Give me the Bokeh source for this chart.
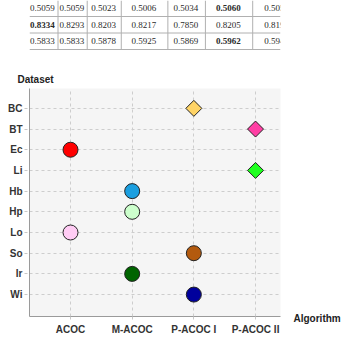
import math
from bokeh.plotting import figure
from bokeh.layouts import column
from bokeh.models import Range1d, FixedTicker, ColumnDataSource, Label, Title
from bokeh.core.properties import value
from bokeh.embed import file_html
from bokeh.resources import INLINE

# ---- table rows shown above the chart ----
table_row1 = ["0.5059", "0.5059", "0.5023", "0.5006", "0.5034", "0.5060", "0.5051"]
table_row2 = ["0.8334", "0.8293", "0.8203", "0.8217", "0.7850", "0.8205", "0.8192"]
table_row3 = ["0.5833", "0.5833", "0.5878", "0.5925", "0.5869", "0.5962", "0.5941"]
table_bold = [(0, 5), (1, 0), (2, 5)]  # (row, column) of the best value per row

# ---- best algorithm per dataset ----
datasets = ["BC", "BT", "Ec", "Li", "Hb", "Hp", "Lo", "So", "Ir", "Wi"]
algorithms = ["ACOC", "M-ACOC", "P-ACOC I", "P-ACOC II"]
best_algorithm = ["P-ACOC I", "P-ACOC II", "ACOC", "P-ACOC II", "M-ACOC",
                  "M-ACOC", "ACOC", "P-ACOC I", "M-ACOC", "P-ACOC I"]
marker_kind = ["diamond", "diamond", "circle", "diamond", "circle",
               "circle", "circle", "circle", "circle", "circle"]
marker_color = ["#ffd466", "#ff3fa4", "#ff0000", "#1fff1f", "#1b9fe0",
                "#ccffcc", "#ffccf4", "#b35a0e", "#006400", "#00009c"]

# ---------------- table figure ----------------
W = 361
TABLE_H = 55
t = figure(width=W, height=TABLE_H, x_range=Range1d(0, W), y_range=Range1d(TABLE_H, 0),
           output_backend="svg", toolbar_location=None, min_border=0,
           x_axis_location=None, y_axis_location=None, outline_line_color=None)
t.grid.visible = False

col_edges = [-2, 41, 83, 132, 199, 253, 321, 392]
row_edges = [-1, 16, 32.5, 49]
rows = [table_row1, table_row2, table_row3]

tx, ty, ttext, tstyle = [], [], [], []
for r, row in enumerate(rows):
    for c, v in enumerate(row):
        tx.append((col_edges[c] + col_edges[c + 1]) / 2 - 1)
        ty.append((row_edges[r] + row_edges[r + 1]) / 2)
        ttext.append(v)
        tstyle.append("bold" if (r, c) in table_bold else "normal")
t.text(x="x", y="y", text="text", text_font_style="style",
       source=ColumnDataSource(dict(x=tx, y=ty, text=ttext, style=tstyle)),
       text_font=value("Liberation Serif"), text_font_size="9px",
       text_color="#2a2a2a", text_align="center", text_baseline="middle")

# grid lines of the table
t.segment(x0=[0] * 3, x1=[W] * 3, y0=row_edges[1:], y1=row_edges[1:],
          line_color="#b0b0b0", line_width=1)
t.segment(x0=col_edges[1:-1], x1=col_edges[1:-1], y0=[0] * 6, y1=[row_edges[-1]] * 6,
          line_color="#b0b0b0", line_width=1)

# ---------------- dot chart ----------------
n = len(datasets)
yidx = [n - 1 - i for i in range(n)]
xidx = [algorithms.index(a) for a in best_algorithm]

p = figure(width=W, height=337 - TABLE_H,
           x_range=Range1d(-0.665, 3.405), y_range=Range1d(-1.06, 9.96),
           output_backend="svg", toolbar_location=None,
           min_border_left=29, min_border_right=81, min_border_top=33, min_border_bottom=20,
           background_fill_color="#f5f5f5", border_fill_color="white",
           outline_line_color=None)

p.xaxis.ticker = FixedTicker(ticks=list(range(len(algorithms))))
p.xaxis.major_label_overrides = {i: a for i, a in enumerate(algorithms)}
p.yaxis.ticker = FixedTicker(ticks=yidx)
p.yaxis.major_label_overrides = {yidx[i]: d for i, d in enumerate(datasets)}

for ax in (p.xaxis, p.yaxis):
    ax.axis_line_color = "#9a9a9a"
    ax.axis_line_width = 1
    ax.major_tick_in = 0
    ax.minor_tick_line_color = None
    ax.major_tick_line_color = "#c8c8c8"
    ax.major_tick_line_dash = "3 3"
    ax.major_label_text_font = "Liberation Sans"
    ax.major_label_text_font_style = "bold"
    ax.major_label_text_font_size = "10px"
    ax.major_label_text_color = "#333333"
p.yaxis.major_tick_out = 5
p.yaxis.major_label_standoff = 2
p.xaxis.major_tick_out = 3
p.xaxis.major_label_standoff = 4

p.grid.grid_line_color = "#cdcdcd"
p.grid.grid_line_dash = "3 3"
p.grid.grid_line_width = 1

circ = [i for i in range(n) if marker_kind[i] == "circle"]
diam = [i for i in range(n) if marker_kind[i] == "diamond"]

p.scatter(x=[xidx[i] for i in circ], y=[yidx[i] for i in circ], marker="circle",
          size=15, fill_color=[marker_color[i] for i in circ],
          line_color="#222222", line_width=1)
p.scatter(x=[xidx[i] for i in diam], y=[yidx[i] for i in diam], marker="square",
          angle=math.pi / 4, size=11.3, fill_color=[marker_color[i] for i in diam],
          line_color="#222222", line_width=1)

# axis names: "Dataset" above the y axis, "Algorithm" right of the x axis
p.add_layout(Title(text="Dataset", align="left", offset=-12, standoff=8,
                   vertical_align="bottom", text_font="Liberation Sans",
                   text_font_style="bold", text_font_size="10px",
                   text_color="#222222"), "above")
p.add_layout(Label(x=13, y=-2, x_units="screen", y_units="screen", text="Algorithm",
                   text_font="Liberation Sans", text_font_style="bold",
                   text_font_size="10px", text_color="#222222",
                   text_align="left", text_baseline="middle"), "right")

layout = column(t, p, spacing=0)
open("out.html", "w").write(file_html(layout, INLINE))
